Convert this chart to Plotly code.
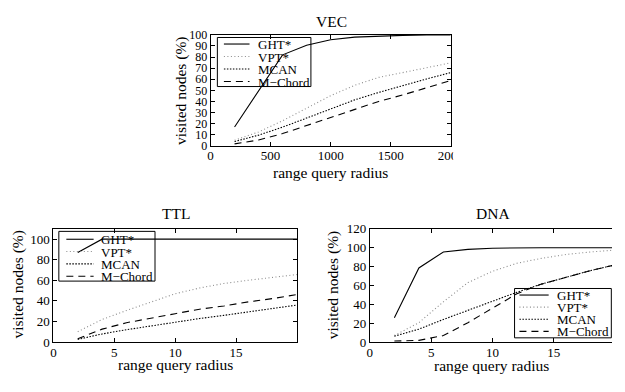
import plotly.graph_objects as go

W, H = 625, 392
FONT = "Liberation Serif, Times New Roman, serif"

series_names = ["GHT*", "VPT*", "MCAN", "M\u2212Chord"]

# ---- VEC ----
vec_x = [200, 400, 600, 800, 1000, 1200, 1400, 1600, 1800, 2000]
vec_ght = [17, 50, 82, 90.7, 95.6, 98, 99.1, 99.6, 100, 100]
vec_vpt = [5, 12.5, 22.6, 34.2, 45.2, 54.5, 61.7, 66, 70.4, 74.8]
vec_mcan = [3.8, 9.6, 16.8, 24.9, 33.6, 41.4, 48.1, 54.5, 60.3, 66]
vec_mchord = [1.7, 5.2, 11, 18.3, 25.5, 33.3, 40, 45.8, 52.2, 58.9]
vec_xticks = [0, 500, 1000, 1500, 2000]
vec_yticks = [0, 10, 20, 30, 40, 50, 60, 70, 80, 90, 100]

# ---- TTL ----
ttl_x = [2, 4, 6, 8, 10, 12, 14, 16, 18, 20]
ttl_ght = [87, 100, 100, 100, 100, 100, 100, 100, 100, 100]
ttl_vpt = [10, 21.9, 30.6, 39, 46.9, 52.5, 56.9, 60, 63.1, 65.6]
ttl_mcan = [2.5, 7.8, 11.9, 15.6, 19.4, 22.8, 25.9, 29.4, 32.5, 35.9]
ttl_mchord = [3.1, 12.5, 18.7, 23.4, 27.5, 31.9, 35, 39, 42.2, 46.2]
ttl_xticks = [0, 5, 10, 15, 20]
ttl_yticks = [0, 20, 40, 60, 80, 100]

# ---- DNA ----
dna_x = [2, 4, 6, 8, 10, 12, 14, 16, 18, 20]
dna_ght = [25.6, 78.5, 95.5, 98.2, 99.5, 100, 100, 100, 100, 100]
dna_vpt = [6.8, 20.5, 42.6, 63, 75, 83.5, 88.7, 92.8, 95.5, 97.5]
dna_mcan = [6.1, 13.6, 23.9, 33.4, 43.6, 52.8, 61.4, 68.9, 75.7, 81.8]
dna_mchord = [1, 1.7, 6.8, 20.5, 35.8, 51.2, 61.4, 68.9, 75.7, 81.8]
dna_xticks = [0, 5, 10, 15]
dna_yticks = [0, 20, 40, 60, 80, 100, 120]

styles = [
    dict(color="black", width=1.1, dash="solid"),
    dict(color="#8c8c8c", width=1.1, dash="1px,2.5px"),
    dict(color="black", width=1.1, dash="1.5px,1.5px"),
    dict(color="black", width=1.1, dash="7px,5px"),
]


def px(x):
    return x / W


def py(y):
    return 1 - y / H


fig = go.Figure()

panels = [
    ("x", "y", vec_x, [vec_ght, vec_vpt, vec_mcan, vec_mchord]),
    ("x2", "y2", ttl_x, [ttl_ght, ttl_vpt, ttl_mcan, ttl_mchord]),
    ("x3", "y3", dna_x, [dna_ght, dna_vpt, dna_mcan, dna_mchord]),
]
for xa, ya, xs, ys_list in panels:
    for name, ys, st in zip(series_names, ys_list, styles):
        fig.add_trace(go.Scatter(x=xs, y=ys, mode="lines", name=name,
                                 line=st, xaxis=xa, yaxis=ya,
                                 showlegend=False))

tickfont = dict(family=FONT, size=13, color="black")
common = dict(showline=True, linecolor="black", linewidth=1, ticks="inside",
              ticklen=4, tickcolor="black", tickwidth=1, showgrid=False,
              zeroline=False, tickfont=tickfont)
xcommon = dict(common, ticklabelstandoff=-2)

fig.update_layout(
    width=W, height=H, margin=dict(l=0, r=0, t=0, b=0),
    plot_bgcolor="white", paper_bgcolor="white", showlegend=False,
    xaxis=dict(xcommon, domain=[px(213), px(459.5)], range=[0, 2000],
               tickvals=vec_xticks, mirror="ticks", anchor="y"),
    yaxis=dict(common, domain=[py(144.3), py(29)], range=[0, 100],
               tickvals=vec_yticks, mirror="ticks", anchor="x",
               tickfont=dict(family=FONT, size=12, color="black")),
    xaxis2=dict(xcommon, domain=[px(51.7), px(301.7)], range=[0, 20],
                tickvals=ttl_xticks, mirror="ticks", anchor="y2"),
    yaxis2=dict(common, domain=[py(348.3), py(230.7)], range=[0, 110],
                tickvals=ttl_yticks, mirror="ticks", anchor="x2"),
    xaxis3=dict(xcommon, domain=[px(376.5), 1.0], range=[0, 19.76],
                tickvals=dna_xticks, mirror="ticks", anchor="y3"),
    yaxis3=dict(common, domain=[py(348.3), py(230.7)], range=[0, 120],
                tickvals=dna_yticks, mirror=False, anchor="x3"),
)

ann = []
shapes = []


def text(x, y, s, size=15.5, angle=0, xanchor="center"):
    ann.append(dict(x=px(x), y=py(y), xref="paper", yref="paper", text=s,
                    showarrow=False, textangle=angle, xanchor=xanchor,
                    yanchor="middle",
                    font=dict(family=FONT, size=size, color="black")))


# titles
text(337, 15, "VEC")
text(178, 215, "TTL")
text(503, 215, "DNA")
# axis titles
text(336, 172, "range query radius")
text(177, 372, "range query radius")
text(501, 373, "range query radius")
text(182, 87, "visited nodes (%)", angle=-90)
text(15, 289, "visited nodes (%)", angle=-90)
text(339, 289, "visited nodes (%)", angle=-90)

# manual legends
legends = [
    dict(box=(220, 31.7, 316, 82.7), y0=38.5, dy=13, l=(226.7, 253), t=260),
    dict(box=(57.3, 233.3, 156, 285), y0=241.5, dy=12.8, l=(65, 93), t=99),
    dict(box=(525, 292.7, 624.3, 344), y0=299.5, dy=12.6, l=(530, 560), t=566.7),
]
for lg in legends:
    x0, y0, x1, y1 = lg["box"]
    shapes.append(dict(type="rect", xref="paper", yref="paper",
                       x0=px(x0), x1=px(x1), y0=py(y0), y1=py(y1),
                       line=dict(color="black", width=1), layer="above"))
    for i, (name, st) in enumerate(zip(series_names, styles)):
        yy = lg["y0"] + lg["dy"] * i
        shapes.append(dict(type="line", xref="paper", yref="paper",
                           x0=px(lg["l"][0]), x1=px(lg["l"][1]),
                           y0=py(yy), y1=py(yy),
                           line=dict(color=st["color"], width=st["width"],
                                     dash=st["dash"]), layer="above"))
        text(lg["t"], yy + 0.5, name, size=13, xanchor="left")

# the reference image is cropped just right of these panels' frames,
# cutting the last x tick labels
shapes.append(dict(type="rect", xref="paper", yref="paper",
                   x0=px(462), x1=px(500), y0=py(162), y1=py(146),
                   fillcolor="white", line=dict(width=0), layer="above"))
shapes.append(dict(type="rect", xref="paper", yref="paper",
                   x0=px(292), x1=px(330), y0=py(364), y1=py(350),
                   fillcolor="white", line=dict(width=0), layer="above"))

fig.update_layout(annotations=ann, shapes=shapes)
fig.write_html("out.html")
